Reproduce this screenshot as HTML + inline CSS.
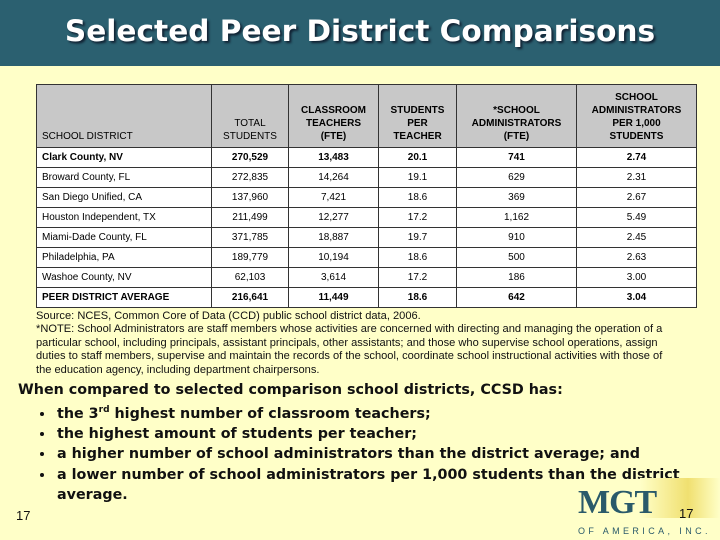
<!DOCTYPE html>
<html><head><style>
body{margin:0;width:720px;height:540px;background:#ffffc8;font-family:"Liberation Sans",sans-serif;position:relative;overflow:hidden}
.hdr{position:absolute;left:0;top:0;width:720px;height:66px;background:#2b6070}
.hdr div{position:absolute;left:0;width:720px;top:14px;text-align:center;color:#fff;font-family:"DejaVu Sans",sans-serif;font-size:29.6px;font-weight:bold;text-shadow:2px 2px 2px #123}
table{position:absolute;left:36px;top:84px;border-collapse:collapse;font-size:10px;background:#fff}
td{border:1px solid #333;text-align:center;height:19px;padding:0}
tr.h td{background:#c8c8c8;height:58px;vertical-align:bottom;padding-bottom:4px;font-weight:bold;font-size:10px;line-height:13px}
td.l{text-align:left;padding-left:5px}
.bold td{font-weight:bold}
.src{position:absolute;left:36px;top:310px;width:680px;white-space:nowrap;font-size:11.1px;line-height:13.4px;color:#111}
.main{position:absolute;left:18px;top:380px;font-family:"DejaVu Sans",sans-serif;font-weight:bold;font-size:14.3px;line-height:20.2px;color:#111}
.main ul{margin:0;padding-left:37px;list-style:disc}
.main li{padding-left:2px}
.pg{position:absolute;font-size:13px;color:#111}
</style></head><body>
<div class="hdr"><div>Selected Peer District Comparisons</div></div>
<table>
<colgroup><col style="width:175px"><col style="width:77px"><col style="width:90px"><col style="width:78px"><col style="width:120px"><col style="width:120px"></colgroup>
<tr class="h"><td class="l" style="font-weight:normal">SCHOOL DISTRICT</td><td style="font-weight:normal">TOTAL<br>STUDENTS</td><td>CLASSROOM<br>TEACHERS<br>(FTE)</td><td>STUDENTS<br>PER<br>TEACHER</td><td>*SCHOOL<br>ADMINISTRATORS<br>(FTE)</td><td>SCHOOL<br>ADMINISTRATORS<br>PER 1,000<br>STUDENTS</td></tr>
<tr class="bold"><td class="l">Clark County, NV</td><td>270,529</td><td>13,483</td><td>20.1</td><td>741</td><td>2.74</td></tr>
<tr><td class="l">Broward County, FL</td><td>272,835</td><td>14,264</td><td>19.1</td><td>629</td><td>2.31</td></tr>
<tr><td class="l">San Diego Unified, CA</td><td>137,960</td><td>7,421</td><td>18.6</td><td>369</td><td>2.67</td></tr>
<tr><td class="l">Houston Independent, TX</td><td>211,499</td><td>12,277</td><td>17.2</td><td>1,162</td><td>5.49</td></tr>
<tr><td class="l">Miami-Dade County, FL</td><td>371,785</td><td>18,887</td><td>19.7</td><td>910</td><td>2.45</td></tr>
<tr><td class="l">Philadelphia, PA</td><td>189,779</td><td>10,194</td><td>18.6</td><td>500</td><td>2.63</td></tr>
<tr><td class="l">Washoe County, NV</td><td>62,103</td><td>3,614</td><td>17.2</td><td>186</td><td>3.00</td></tr>
<tr class="bold"><td class="l">PEER DISTRICT AVERAGE</td><td>216,641</td><td>11,449</td><td>18.6</td><td>642</td><td>3.04</td></tr>
</table>
<div class="src">Source: NCES, Common Core of Data (CCD) public school district data, 2006.<br>*NOTE: School Administrators are staff members whose activities are concerned with directing and managing the operation of a<br>particular school, including principals, assistant principals, other assistants; and those who supervise school operations, assign<br>duties to staff members, supervise and maintain the records of the school, coordinate school instructional activities with those of<br>the education agency, including department chairpersons.</div>
<div class="main">When compared to selected comparison school districts, CCSD has:
<ul><li>the 3<sup style="font-size:9px">rd</sup> highest number of classroom teachers;</li>
<li>the highest amount of students per teacher;</li>
<li>a higher number of school administrators than the district average; and</li>
<li>a lower number of school administrators per 1,000 students than the district average.</li></ul></div>
<div class="pg" style="left:16px;top:508px">17</div>
<div style="position:absolute;left:640px;top:478px;width:80px;height:40px;background:linear-gradient(90deg,#ffffc8,#f0e070 60%,#ffffc8)"></div>
<div style="position:absolute;left:578px;top:484px;font-family:'Liberation Serif',serif;font-weight:bold;font-size:34px;color:#2a5a6a;letter-spacing:-1px">MGT</div>
<div class="pg" style="left:679px;top:506px">17</div>
<div style="position:absolute;left:578px;top:526px;font-size:9px;letter-spacing:3.4px;color:#2a5a6a">OF AMERICA, INC.</div>
</body></html>
